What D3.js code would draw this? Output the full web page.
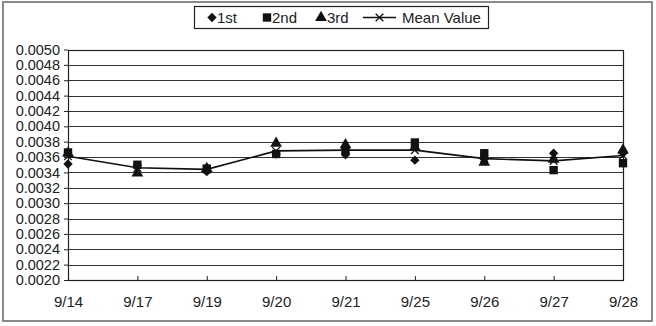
<!DOCTYPE html>
<html>
<head>
<meta charset="utf-8">
<script src="https://cdn.jsdelivr.net/npm/d3@7"></script>
<style>
    body { margin: 0; background: #fff; }
    text { font-family: "Liberation Sans", Arial, sans-serif; fill: #222; }
</style>
</head>
<body>
<svg id="chart"></svg>
<script>
const   width  = 656,
        height = 326;

const MARGIN = {
    "LEFT":68,
    "RIGHT":33,
    "TOP":49.5,
    "BOTTOM":46,
};

// data
const dates = ["9/14", "9/17", "9/19", "9/20", "9/21", "9/25", "9/26", "9/27", "9/28"];
const first  = [0.00351, 0.00349, 0.00341, 0.00364, 0.00363, 0.00356, 0.00357, 0.00365, 0.00365];
const second = [0.00366, 0.00350, 0.00345, 0.00364, 0.00369, 0.00379, 0.00365, 0.00343, 0.00352];
const third  = [0.00365, 0.00339, 0.00345, 0.00378, 0.00376, 0.00373, 0.00353, 0.00357, 0.00369];
const meanValue = [0.00361, 0.00346, 0.00344, 0.00368, 0.00369, 0.00369, 0.00358, 0.00355, 0.00362];
const yTicks = [0.0020, 0.0022, 0.0024, 0.0026, 0.0028, 0.0030, 0.0032, 0.0034,
                0.0036, 0.0038, 0.0040, 0.0042, 0.0044, 0.0046, 0.0048, 0.0050];

var svg = d3.select("#chart").attr("width", width).attr("height", height);

// outer frame
svg.append("rect")
    .attr("x", 3).attr("y", 2)
    .attr("width", 649).attr("height", 319)
    .attr("fill", "none")
    .attr("stroke", "#8a8a8a")
    .attr("stroke-width", 2);

const x = d3.scalePoint()
    .domain(dates)
    .range([MARGIN.LEFT, width - MARGIN.RIGHT]);

const y = d3.scaleLinear()
    .domain([0.002, 0.005])
    .range([height - MARGIN.BOTTOM, MARGIN.TOP]);

// gridlines
svg.append("g")
    .selectAll("line")
    .data(yTicks)
    .enter()
    .append("line")
    .attr("x1", MARGIN.LEFT).attr("x2", width - MARGIN.RIGHT)
    .attr("y1", d => Math.round(y(d)) + 0.5).attr("y2", d => Math.round(y(d)) + 0.5)
    .attr("stroke", "#333")
    .attr("stroke-width", 1);

// plot box
svg.append("rect")
    .attr("x", MARGIN.LEFT + 0.5).attr("y", Math.round(MARGIN.TOP) + 0.5)
    .attr("width", width - MARGIN.RIGHT - MARGIN.LEFT)
    .attr("height", Math.round(height - MARGIN.BOTTOM) - Math.round(MARGIN.TOP))
    .attr("fill", "none")
    .attr("stroke", "#222")
    .attr("stroke-width", 1.2);

// y axis
const yAxis = d3.axisLeft(y)
    .tickValues(yTicks)
    .tickFormat(d3.format(".4f"))
    .tickSize(4)
    .tickPadding(4);

const gy = svg.append("g")
    .attr("transform", "translate(" + MARGIN.LEFT + ",0)")
    .call(yAxis);
gy.select(".domain").remove();
gy.selectAll("line").attr("stroke", "#222");
gy.selectAll("text")
    .style("font-size", "14.5px")
    .attr("fill", "#222");

// x axis - ticks point up into the plot
const xAxis = d3.axisBottom(x)
    .tickSize(-4)
    .tickPadding(16);

const gx = svg.append("g")
    .attr("transform", "translate(0," + (height - MARGIN.BOTTOM) + ")")
    .call(xAxis);
gx.select(".domain").remove();
gx.selectAll("line").attr("stroke", "#222");
gx.selectAll("text")
    .style("font-size", "15px")
    .attr("fill", "#222");

// markers
const diamond  = d3.symbol().type(d3.symbolSquare).size(44);
const square   = d3.symbol().type(d3.symbolSquare).size(70);
const triangle = d3.symbol().type(d3.symbolTriangle).size(60);
const times    = d3.symbol().type(d3.symbolTimes || d3.symbolX).size(40);

function drawSeries(values, sym, rotate) {
    svg.append("g")
        .selectAll("path")
        .data(values)
        .enter()
        .append("path")
        .attr("d", sym)
        .attr("transform", (d, i) => "translate(" + x(dates[i]) + "," + y(d) + ")" + (rotate ? " rotate(45)" : ""))
        .attr("fill", "#111");
}

drawSeries(first, diamond, true);
drawSeries(second, square, false);
drawSeries(third, triangle, false);

// mean value line
const line = d3.line()
    .x((d, i) => x(dates[i]))
    .y(d => y(d));

svg.append("path")
    .datum(meanValue)
    .attr("d", line)
    .attr("fill", "none")
    .attr("stroke", "#111")
    .attr("stroke-width", 1.6);

svg.append("g")
    .selectAll("path")
    .data(meanValue)
    .enter()
    .append("path")
    .attr("d", times)
    .attr("transform", (d, i) => "translate(" + x(dates[i]) + "," + y(d) + ")")
    .attr("fill", "none")
    .attr("stroke", "#111")
    .attr("stroke-width", 1.3);

// legend
const lg = svg.append("g");
lg.append("rect")
    .attr("x", 194.5).attr("y", 6.5)
    .attr("width", 294).attr("height", 22)
    .attr("fill", "#fff")
    .attr("stroke", "#222")
    .attr("stroke-width", 1.2);

const legendY = 17.5;
lg.append("path").attr("d", diamond).attr("transform", "translate(212," + legendY + ") rotate(45)").attr("fill", "#111");
lg.append("text").attr("x", 217).attr("y", legendY + 5.5).style("font-size", "15px").text("1st");
lg.append("path").attr("d", square).attr("transform", "translate(267," + legendY + ")").attr("fill", "#111");
lg.append("text").attr("x", 272).attr("y", legendY + 5.5).style("font-size", "15px").text("2nd");
lg.append("path").attr("d", triangle).attr("transform", "translate(321," + legendY + ")").attr("fill", "#111");
lg.append("text").attr("x", 327).attr("y", legendY + 5.5).style("font-size", "15px").text("3rd");
lg.append("line").attr("x1", 363).attr("x2", 396).attr("y1", legendY).attr("y2", legendY)
    .attr("stroke", "#111").attr("stroke-width", 1.4);
lg.append("path").attr("d", times)
    .attr("transform", "translate(379.5," + legendY + ")")
    .attr("fill", "none").attr("stroke", "#111").attr("stroke-width", 1.3);
lg.append("text").attr("x", 402).attr("y", legendY + 5.5).style("font-size", "15px").text("Mean Value");
</script>
</body>
</html>
